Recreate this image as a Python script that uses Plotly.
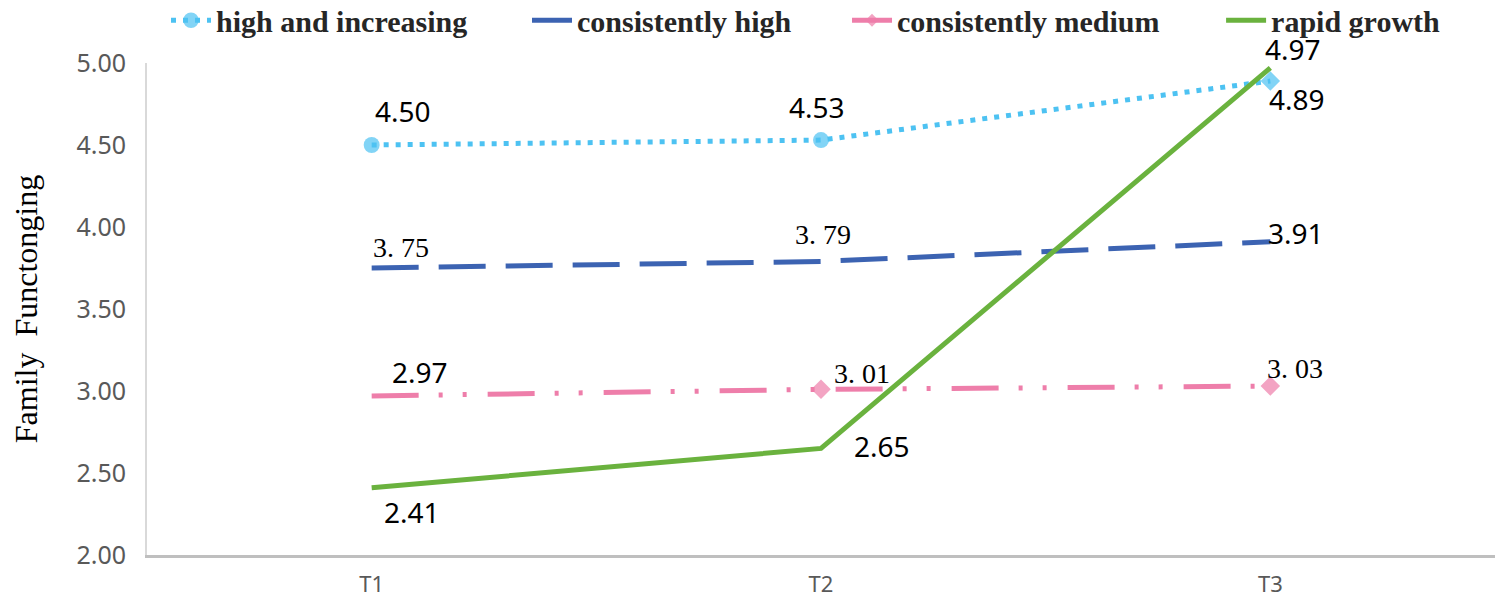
import plotly.graph_objects as go

# ---- data ----
times = ["T1", "T2", "T3"]
series_names = ["high and increasing", "consistently high", "consistently medium", "rapid growth"]
high_increasing = [4.50, 4.53, 4.89]
consistently_high = [3.75, 3.79, 3.91]
consistently_medium = [2.97, 3.01, 3.03]
rapid_growth = [2.41, 2.65, 4.97]
y_ticks = [2.0, 2.5, 3.0, 3.5, 4.0, 4.5, 5.0]

# ---- styles ----
colors = ["#4DC2F2", "#3C63B2", "#EE7EAA", "#6AB23E"]
dashes = ["5px,7px", "47px,20px", "47px,20px,4px,20px,4px,21px", "solid"]
symbols = [["circle", "circle", "diamond"], ["circle"] * 3, ["diamond"] * 3, ["circle"] * 3]
msizes = [[16, 16, 15], [0, 0, 0], [0, 15, 15], [0, 0, 0]]
legend_x = [0.0141, 0.2819, 0.5193, 0.7968]
# label offsets (px) and font per point
label_off = [
    [(31, -34), (-4, -33), (27, 18)],
    [(29, -21), (2, -27), (26, -9)],
    [(48, -24), (41, -16), (25, -18)],
    [(40, 24), (61, -2), (23, -19)],
]
serif_label = [
    [False, False, False],
    [True, True, False],
    [False, True, True],
    [False, False, False],
]

values = [high_increasing, consistently_high, consistently_medium, rapid_growth]
legend_ids = ["legend", "legend2", "legend3", "legend4"]

fig = go.Figure()
for i, name in enumerate(series_names):
    fig.add_trace(go.Scatter(
        x=times, y=values[i], name=name, mode="lines+markers",
        line=dict(color=colors[i], width=5, dash=dashes[i]),
        marker=dict(symbol=symbols[i], size=msizes[i], color=colors[i],
                    line=dict(width=0)),
        legend=legend_ids[i],
    ))

annotations = []
for i, vals in enumerate(values):
    for j, v in enumerate(vals):
        dx, dy = label_off[i][j]
        if serif_label[i][j]:
            txt = f"{v:.2f}".replace(".", ".\u00a0")
            font = dict(family="Liberation Serif", size=28, color="#000000")
        else:
            txt = f"{v:.2f}"
            font = dict(family="Noto Sans", size=28, color="#000000")
        annotations.append(dict(
            x=times[j], y=v, xref="x", yref="y", text=txt, showarrow=False,
            xshift=dx, yshift=-dy, font=font,
        ))

legend_common = dict(
    orientation="h", xanchor="left", y=1.034, yanchor="bottom",
    font=dict(family="Liberation Serif", size=30, color="#262626", weight="bold"),
    itemwidth=40, bgcolor="rgba(0,0,0,0)",
)
legends = {lid: dict(legend_common, x=legend_x[k]) for k, lid in enumerate(legend_ids)}

# page has an 8px body margin: figure is drawn 8px right and down
fig.update_layout(
    width=1497, height=595,
    margin=dict(l=139, r=10, t=55, b=48, autoexpand=False),
    paper_bgcolor="white", plot_bgcolor="white",
    showlegend=True,
    annotations=annotations,
    xaxis=dict(
        type="category", range=[-0.5, 2.5],
        showline=True, linecolor="#BFBFBF", linewidth=3,
        showgrid=False, zeroline=False, ticks="",
        tickfont=dict(family="Noto Sans", size=22, color="#595959"),
        ticklabelstandoff=8,
    ),
    yaxis=dict(
        range=[2.0, 5.0], tickvals=y_ticks, tickformat=".2f",
        showline=True, linecolor="#D9D9D9", linewidth=2,
        showgrid=False, zeroline=False, ticks="",
        tickfont=dict(family="Noto Sans", size=25, color="#595959"),
        ticklabelstandoff=14,
        title=dict(text="Family\u00a0 Functonging", standoff=34,
                   font=dict(family="Liberation Serif", size=32, color="#000000")),
    ),
    **legends,
)

fig.write_html("out.html")
